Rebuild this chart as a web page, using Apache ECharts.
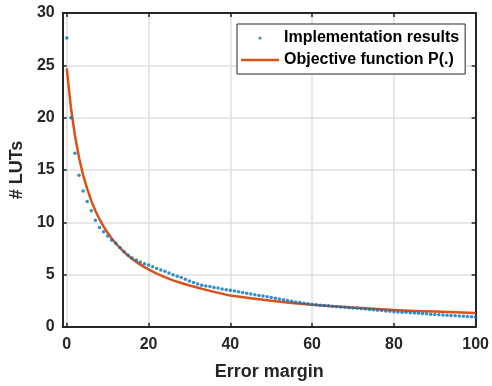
<!DOCTYPE html>
<html>
<head>
<meta charset="utf-8">
<script src="https://cdn.jsdelivr.net/npm/echarts@6/dist/echarts.min.js"></script>
<style>
  html, body { margin: 0; padding: 0; background: #fff; }
  #chart { width: 492px; height: 386px; }
</style>
</head>
<body>
<div id="chart"></div>
<script>
// implementation results, one value per error margin 0..100
const results = [
  27.6, 20.0, 16.6, 14.5, 13.0, 12.0, 11.1, 10.2, 9.5, 9.1,
  8.7, 8.3, 8.0, 7.6, 7.2, 6.85, 6.6, 6.4, 6.2, 6.05,
  5.92, 5.76, 5.6, 5.45, 5.32, 5.16, 5.0, 4.86, 4.72, 4.56,
  4.4, 4.25, 4.1, 3.98, 3.92, 3.86, 3.78, 3.72, 3.64, 3.57,
  3.5, 3.43, 3.36, 3.3, 3.22, 3.15, 3.08, 3.02, 2.95, 2.88,
  2.82, 2.75, 2.68, 2.6, 2.52, 2.46, 2.4, 2.35, 2.28, 2.21,
  2.15, 2.12, 2.08, 2.05, 2.02, 1.98, 1.95, 1.92, 1.88, 1.85,
  1.82, 1.78, 1.75, 1.71, 1.68, 1.65, 1.6, 1.57, 1.53, 1.5,
  1.46, 1.44, 1.42, 1.4, 1.37, 1.34, 1.32, 1.29, 1.26, 1.23,
  1.2, 1.18, 1.15, 1.13, 1.1, 1.07, 1.05, 1.02, 1.0, 0.97,
  0.93
];

// objective function P(.)
const objX = [0, 1, 2, 3, 4, 5, 6, 7, 8, 9, 10, 11, 12, 13, 14, 15, 16, 17, 18, 19, 20,
  22, 24, 26, 28, 30, 35, 40, 45, 50, 55, 60, 65, 70, 75, 80, 85, 90, 95, 100];
const objY = [24.7, 21.0, 18.3, 16.2, 14.5, 13.2, 12.05, 11.1, 10.3, 9.6, 9.0, 8.45, 7.98, 7.55, 7.17, 6.83, 6.5, 6.22, 5.96, 5.72, 5.5,
  5.1, 4.76, 4.46, 4.2, 3.96, 3.45, 3.0, 2.75, 2.5, 2.3, 2.13, 1.99, 1.86, 1.74, 1.62, 1.54, 1.47, 1.4, 1.34];

const xTicks = [0, 20, 40, 60, 80, 100];

const dark = '#262626';
const gridColor = '#dfdfdf';
const font = '"Liberation Sans", Arial, sans-serif';

const chart = echarts.init(document.getElementById('chart'));

const dotIcon = 'image://data:image/svg+xml;utf8,<svg xmlns="http://www.w3.org/2000/svg" width="38" height="16"><circle cx="19" cy="8" r="1.6" fill="%230072BD"/></svg>';
const lineIcon = 'image://data:image/svg+xml;utf8,<svg xmlns="http://www.w3.org/2000/svg" width="38" height="16"><line x1="0" y1="8" x2="38" y2="8" stroke="%23D95319" stroke-width="2.5"/></svg>';

const option = {
  animation: false,
  backgroundColor: '#fff',
  textStyle: { fontFamily: font },
  grid: { left: 61, right: 15, top: 13, bottom: 58.5 },
  legend: {
    orient: 'vertical',
    left: 237,
    top: 24,
    padding: [6, 6, 6, 4],
    itemWidth: 38,
    itemHeight: 16,
    itemGap: 6,
    backgroundColor: '#fff',
    borderColor: dark,
    borderWidth: 1,
    textStyle: { color: '#000', fontSize: 16, fontWeight: 'bold', fontFamily: font },
    data: [
      { name: 'Implementation results', icon: dotIcon },
      { name: 'Objective function P(.)', icon: lineIcon }
    ]
  },
  xAxis: [
    {
      type: 'value',
      min: -1,
      max: 100,
      name: 'Error margin',
      nameLocation: 'middle',
      nameGap: 36,
      nameTextStyle: { color: dark, fontSize: 18, fontWeight: 'bold', fontFamily: font },
      axisLine: { show: true, onZero: false, lineStyle: { color: dark, width: 2 } },
      axisTick: { show: true, inside: true, length: 4, customValues: xTicks, lineStyle: { color: dark, width: 1.5 } },
      axisLabel: { customValues: xTicks, color: dark, fontSize: 16, fontWeight: 'bold', margin: 10, fontFamily: font },
      splitLine: { show: true, lineStyle: { color: gridColor, width: 1.5 } }
    },
    {
      type: 'value',
      position: 'top',
      min: -1,
      max: 100,
      axisLine: { show: true, onZero: false, lineStyle: { color: dark, width: 2 } },
      axisTick: { show: true, inside: true, length: 4, customValues: xTicks, lineStyle: { color: dark, width: 1.5 } },
      axisLabel: { show: false },
      splitLine: { show: false }
    }
  ],
  yAxis: [
    {
      type: 'value',
      min: 0,
      max: 30,
      interval: 5,
      name: '# LUTs',
      nameLocation: 'middle',
      nameGap: 34,
      nameTextStyle: { color: dark, fontSize: 18, fontWeight: 'bold', fontFamily: font },
      axisLine: { show: true, onZero: false, lineStyle: { color: dark, width: 2 } },
      axisTick: { show: true, inside: true, length: 4, lineStyle: { color: dark, width: 1.5 } },
      axisLabel: { color: dark, fontSize: 16, fontWeight: 'bold', margin: 8, fontFamily: font },
      splitLine: { show: true, lineStyle: { color: gridColor, width: 1.5 } }
    },
    {
      type: 'value',
      position: 'right',
      min: 0,
      max: 30,
      interval: 5,
      axisLine: { show: true, onZero: false, lineStyle: { color: dark, width: 2 } },
      axisTick: { show: true, inside: true, length: 4, lineStyle: { color: dark, width: 1.5 } },
      axisLabel: { show: false },
      splitLine: { show: false }
    }
  ],
  series: [
    {
      name: 'Objective function P(.)',
      type: 'line',
      data: objX.map((x, i) => [x, objY[i]]),
      smooth: false,
      showSymbol: false,
      symbol: 'none',
      lineStyle: { color: '#D95319', width: 2.5, join: 'round' },
      itemStyle: { color: '#D95319' },
      z: 2
    },
    {
      name: 'Implementation results',
      type: 'scatter',
      data: results.map((y, i) => [i, y]),
      symbol: 'circle',
      symbolSize: 3.5,
      itemStyle: { color: '#0072BD' },
      z: 3
    }
  ]
};

chart.setOption(option);
window.addEventListener('resize', () => chart.resize());
</script>
</body>
</html>
